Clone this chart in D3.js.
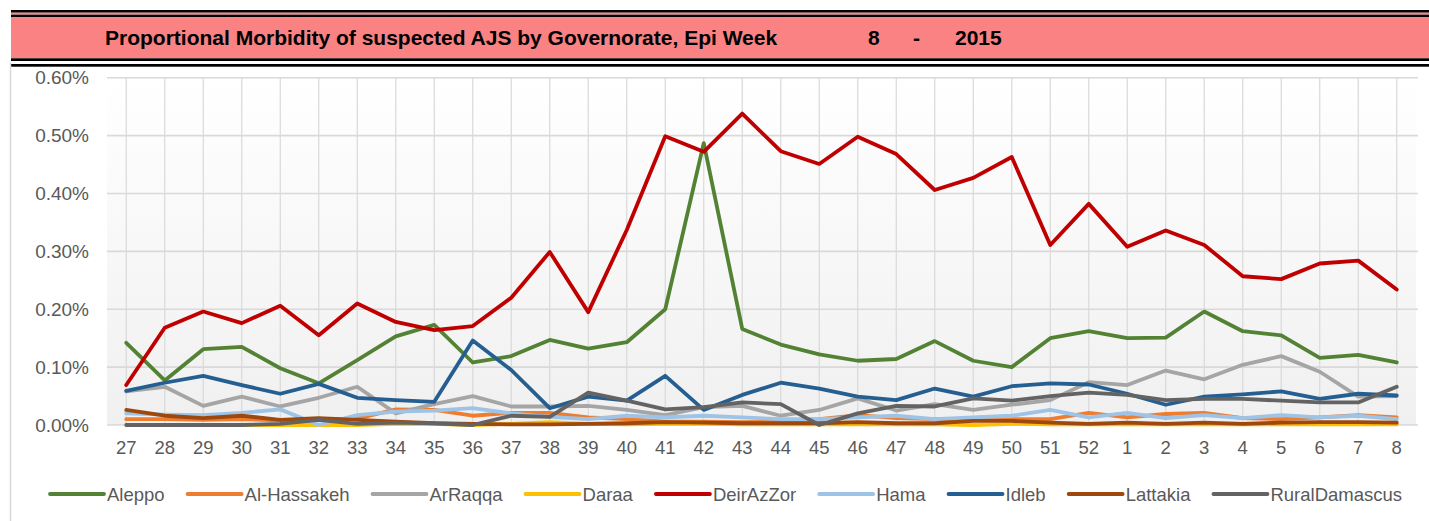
<!DOCTYPE html>
<html><head><meta charset="utf-8">
<script src="https://cdn.jsdelivr.net/npm/d3@7"></script>
<style>html,body{margin:0;padding:0;background:#fff;}svg{display:block;}</style>
</head><body>
<svg id="chart" width="1429" height="521"></svg>
<script>
const weeks = ["27","28","29","30","31","32","33","34","35","36","37","38","39","40","41","42","43","44","45","46","47","48","49","50","51","52","1","2","3","4","5","6","7","8"];
const yTicks = [0, 0.1, 0.2, 0.3, 0.4, 0.5, 0.6];
const seriesNames = ["Aleppo","Al-Hassakeh","ArRaqqa","Daraa","DeirAzZor","Hama","Idleb","Lattakia","RuralDamascus"];
const seriesColors = ["#548235","#ed7d31","#a5a5a5","#ffc000","#c00000","#9dc3e6","#255e91","#9e480e","#636363"];
// values in percent
const aleppo = [0.142,0.077,0.131,0.135,0.098,0.072,0.112,0.153,0.173,0.108,0.119,0.147,0.132,0.143,0.200,0.487,0.166,0.139,0.122,0.111,0.114,0.145,0.111,0.100,0.150,0.162,0.150,0.151,0.196,0.162,0.155,0.116,0.121,0.108];
const alHassakeh = [0.010,0.010,0.009,0.010,0.008,0.009,0.011,0.027,0.026,0.016,0.021,0.021,0.013,0.010,0.006,0.006,0.005,0.006,0.010,0.017,0.012,0.010,0.010,0.010,0.010,0.021,0.013,0.019,0.021,0.012,0.010,0.013,0.017,0.013];
const arRaqqa = [0.058,0.066,0.033,0.049,0.032,0.047,0.066,0.020,0.036,0.050,0.032,0.032,0.033,0.026,0.017,0.031,0.033,0.016,0.026,0.046,0.025,0.036,0.026,0.035,0.043,0.074,0.069,0.094,0.079,0.104,0.119,0.092,0.049,0.050];
const daraa = [0,0,0,0,0,0,0,0.002,0.002,0,0.002,0.005,0.002,0.001,0.002,0.002,0.001,0.001,0.001,0.001,0.001,0.001,0,0.002,0.001,0.001,0.001,0.001,0.001,0.001,0.001,0.001,0.001,0.001];
const deirAzZor = [0.069,0.168,0.196,0.176,0.206,0.155,0.210,0.178,0.164,0.171,0.220,0.299,0.195,0.337,0.499,0.472,0.538,0.473,0.451,0.498,0.468,0.406,0.427,0.463,0.311,0.382,0.308,0.336,0.311,0.257,0.252,0.279,0.284,0.234];
const hama = [0.020,0.018,0.017,0.021,0.027,0.000,0.017,0.023,0.025,0.029,0.020,0.014,0.010,0.016,0.013,0.016,0.013,0.010,0.010,0.013,0.016,0.010,0.013,0.016,0.026,0.013,0.021,0.012,0.017,0.012,0.017,0.013,0.016,0.010];
const idleb = [0.059,0.073,0.085,0.069,0.054,0.071,0.047,0.043,0.040,0.146,0.095,0.029,0.049,0.042,0.085,0.026,0.052,0.073,0.063,0.049,0.043,0.063,0.049,0.067,0.072,0.070,0.054,0.035,0.049,0.053,0.058,0.045,0.054,0.051];
const lattakia = [0.026,0.016,0.012,0.016,0.009,0.012,0.009,0.006,0.003,0.002,0.001,0.001,0.002,0.003,0.005,0.004,0.003,0.003,0.003,0.005,0.003,0.003,0.007,0.007,0.004,0.002,0.004,0.002,0.004,0.002,0.004,0.005,0.005,0.004];
const ruralDamascus = [0.000,0.000,0.000,0.000,0.002,0.009,0.002,0.004,0.003,0.000,0.016,0.014,0.056,0.042,0.027,0.031,0.039,0.036,0.000,0.020,0.033,0.032,0.046,0.042,0.050,0.056,0.052,0.043,0.045,0.045,0.042,0.039,0.039,0.066];
const seriesValues = [aleppo, alHassakeh, arRaqqa, daraa, deirAzZor, hama, idleb, lattakia, ruralDamascus];

const svg = d3.select("#chart");
const FONT = "'Liberation Sans', Arial, sans-serif";

// Title band
svg.append("rect").attr("x",11).attr("y",10).attr("width",1418).attr("height",2.7).attr("fill","#000");
svg.append("rect").attr("x",11).attr("y",12.7).attr("width",1418).attr("height",2).attr("fill","#fa8283");
svg.append("rect").attr("x",11).attr("y",14.7).attr("width",1418).attr("height",2.6).attr("fill","#000");
svg.append("rect").attr("x",11).attr("y",17.3).attr("width",1418).attr("height",41).attr("fill","#fa8283");
svg.append("rect").attr("x",11).attr("y",58.3).attr("width",1418).attr("height",2.7).attr("fill","#000");
svg.append("rect").attr("x",11).attr("y",64).attr("width",1418).attr("height",2.7).attr("fill","#000");

const tg = svg.append("g").attr("font-family",FONT).attr("font-weight","bold").attr("font-size",21).attr("fill","#000");
tg.append("text").attr("x",105).attr("y",45).text("Proportional Morbidity of suspected AJS by Governorate, Epi Week");
tg.append("text").attr("x",868).attr("y",45).text("8");
tg.append("text").attr("x",913).attr("y",45).text("-");
tg.append("text").attr("x",955).attr("y",45).text("2015");

// chart frame left edge
svg.append("line").attr("x1",10.5).attr("x2",10.5).attr("y1",63).attr("y2",521).attr("stroke","#d9d9d9").attr("stroke-width",1.5);

// scales
const x = d3.scaleBand().domain(weeks).range([107,1416]).padding(0);
const y = d3.scaleLinear().domain([0,0.6]).range([425,77.7]);
const cx = w => x(w) + x.bandwidth()/2;

// plot background gradient
const defs = svg.append("defs");
const grad = defs.append("linearGradient").attr("id","bg").attr("x1",0).attr("x2",0).attr("y1",0).attr("y2",1);
grad.append("stop").attr("offset","0%").attr("stop-color","#ffffff");
grad.append("stop").attr("offset","100%").attr("stop-color","#f0f0f0");
svg.append("rect").attr("x",107).attr("y",y(0.6)).attr("width",1416-107).attr("height",y(0)-y(0.6)).attr("fill","url(#bg)");

// vertical gridlines
svg.append("g").selectAll("line").data(weeks).join("line")
  .attr("x1",d=>cx(d)).attr("x2",d=>cx(d)).attr("y1",y(0.6)).attr("y2",y(0))
  .attr("stroke","#d9d9d9").attr("stroke-width",1.2);

// horizontal gridlines
svg.append("g").selectAll("line").data(yTicks).join("line")
  .attr("x1",107).attr("x2",1418).attr("y1",d=>y(d)).attr("y2",d=>y(d))
  .attr("stroke","#d9d9d9").attr("stroke-width",1.6);

// y axis
const yAxis = svg.append("g").attr("transform","translate(107,0)")
  .call(d3.axisLeft(y).tickValues(yTicks).tickFormat(d=>d3.format(".2f")(d)+"%").tickSize(0).tickPadding(18));
yAxis.select(".domain").remove();
yAxis.selectAll("text").attr("font-family",FONT).attr("font-size",19).attr("fill","#595959");

// x axis
const xAxis = svg.append("g").attr("transform","translate(0,425)")
  .call(d3.axisBottom(x).tickSize(0).tickPadding(16));
xAxis.select(".domain").remove();
xAxis.selectAll("text").attr("font-family",FONT).attr("font-size",18.5).attr("fill","#595959");

// lines
const line = d3.line().x((d,i)=>cx(weeks[i])).y(d=>y(d));
svg.append("g").selectAll("path").data(seriesValues).join("path")
  .attr("d",d=>line(d)).attr("fill","none")
  .attr("stroke",(d,i)=>seriesColors[i]).attr("stroke-width",3.8)
  .attr("stroke-linejoin","round").attr("stroke-linecap","round");

// legend
const lg = svg.append("g").attr("font-family",FONT).attr("font-size",18.5).attr("fill","#595959");
let lx = 50;
seriesNames.forEach((n,i)=>{
  lg.append("line").attr("x1",lx).attr("x2",lx+54).attr("y1",494).attr("y2",494)
    .attr("stroke",seriesColors[i]).attr("stroke-width",3.8).attr("stroke-linecap","round");
  const t = lg.append("text").attr("x",lx+57).attr("y",500.5).text(n);
  lx = lx + 57 + t.node().getComputedTextLength() + 23;
});
</script>
</body></html>
